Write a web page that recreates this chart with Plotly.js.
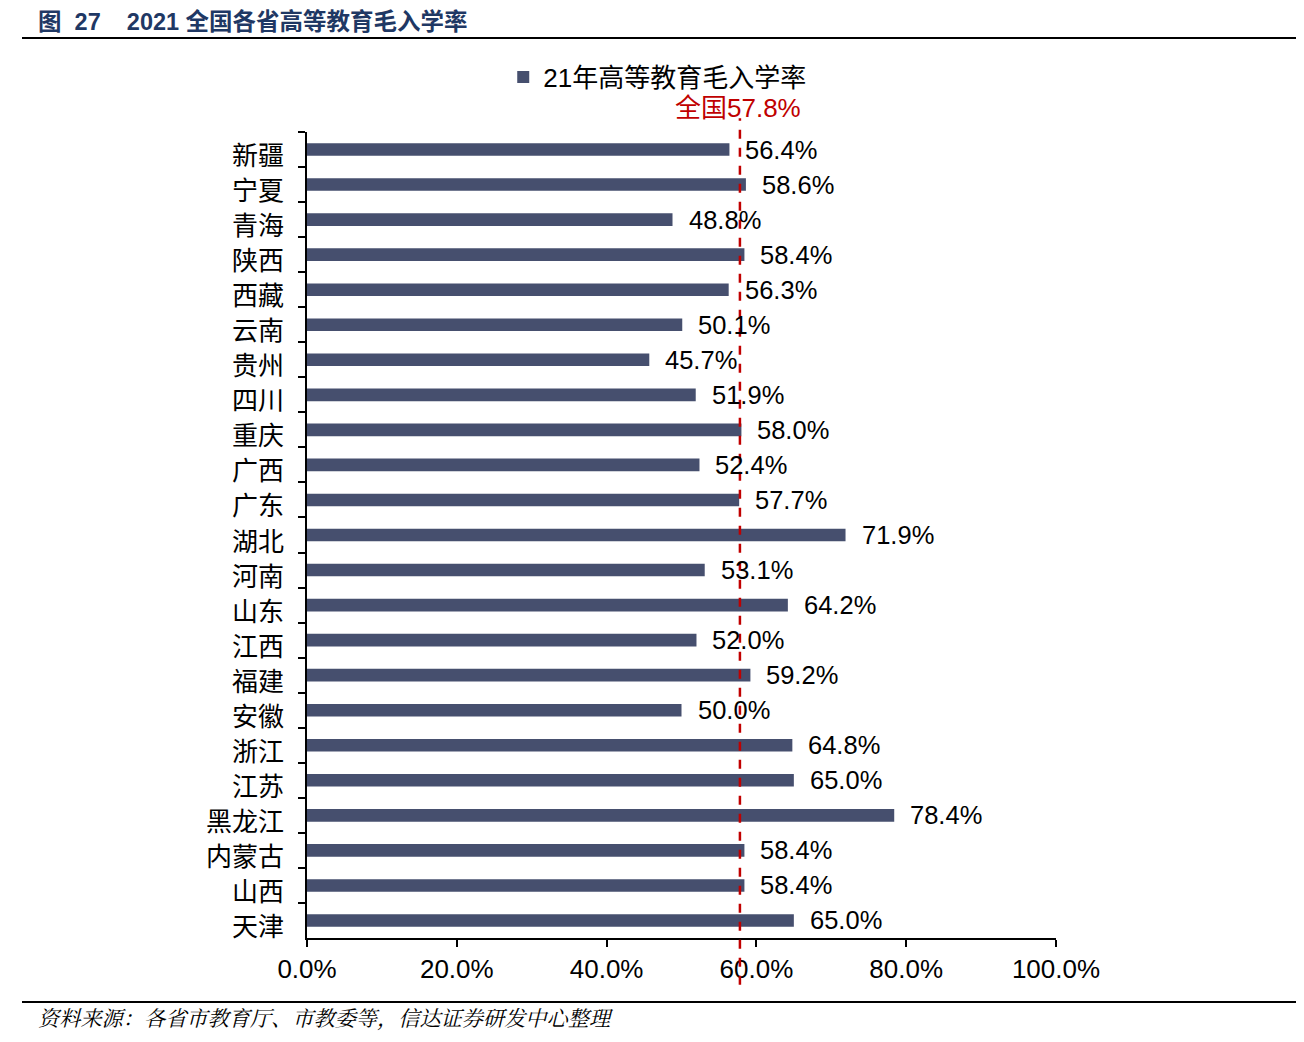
<!DOCTYPE html>
<html>
<head>
<meta charset="utf-8">
<script src="https://cdn.plot.ly/plotly-3.0.1.min.js"></script>
<style>
html,body{margin:0;padding:0;background:#fff;}
#chart{width:1304px;height:1042px;}
</style>
</head>
<body>
<div id="chart"></div>
<script>
var provinces = ["新疆","宁夏","青海","陕西","西藏","云南","贵州","四川","重庆","广西","广东","湖北","河南","山东","江西","福建","安徽","浙江","江苏","黑龙江","内蒙古","山西","天津"];
var rates = [56.4,58.6,48.8,58.4,56.3,50.1,45.7,51.9,58.0,52.4,57.7,71.9,53.1,64.2,52.0,59.2,50.0,64.8,65.0,78.4,58.4,58.4,65.0];
var nationalRate = 57.8;
var seriesName = "21年高等教育毛入学率";
var xTicks = [0,20,40,60,80,100];

var font = "Arial, 'Liberation Sans', 'Noto Sans CJK SC', sans-serif";
var cjk = "'Noto Sans CJK SC', sans-serif";

var trace = {
  type: "bar",
  orientation: "h",
  y: provinces,
  x: rates,
  name: seriesName,
  width: 0.36,
  marker: {color: "#464f6e"},
  hoverinfo: "x+y",
  showlegend: true
};

var annotations = [];
provinces.forEach(function(p, i){
  annotations.push({
    x: rates[i], y: p, xref: "x", yref: "y",
    text: rates[i].toFixed(1) + "%",
    showarrow: false, xanchor: "left", yanchor: "middle",
    xshift: 14, yshift: 0,
    font: {family: font, size: 25.5, color: "#000"}
  });
  annotations.push({
    x: 0, y: p, xref: "paper", yref: "y",
    text: p,
    showarrow: false, xanchor: "right", yanchor: "middle",
    xshift: -21, yshift: -4,
    font: {family: cjk, size: 26, color: "#000"}
  });
});
annotations.push({
  x: nationalRate, xref: "x", y: 1.030, yref: "paper",
  text: "全国" + nationalRate.toFixed(1) + "%",
  showarrow: false, xanchor: "center", yanchor: "middle", xshift: -2,
  font: {family: font, size: 26, color: "#c00000"}
});
annotations.push({
  xref: "paper", yref: "paper", x: (36-307)/749, y: (938-21)/806,
  xanchor: "left", yanchor: "middle", showarrow: false,
  text: "<b>图  27    2021 全国各省高等教育毛入学率</b>",
  font: {family: "Arial, 'Noto Sans CJK SC', sans-serif", size: 23.5, color: "#1f3864"}
});
annotations.push({
  xref: "paper", yref: "paper", x: (36-307)/749, y: (938-1017)/806,
  xanchor: "left", yanchor: "middle", showarrow: false,
  text: "<i>资料来源：各省市教育厅、市教委等，信达证券研发中心整理</i>",
  font: {family: "'Noto Serif CJK SC', 'Noto Sans CJK SC', serif", size: 21.2, color: "#000"}
});

var layout = {
  width: 1304, height: 1042,
  margin: {l: 307, r: 248, t: 132, b: 104, autoexpand: false},
  paper_bgcolor: "#fff", plot_bgcolor: "#fff",
  xaxis: {
    range: [0, 100],
    tickvals: xTicks,
    ticktext: xTicks.map(function(v){return v.toFixed(1) + "%";}),
    showgrid: false, zeroline: false,
    showline: true, linecolor: "#000", linewidth: 2,
    ticks: "outside", ticklen: 7, tickwidth: 2, tickcolor: "#000",
    tickfont: {family: font, size: 26, color: "#000"},
    ticklabelstandoff: 0,
    automargin: false,
    fixedrange: true
  },
  yaxis: {
    type: "category",
    range: [provinces.length - 0.5, -0.5],
    autorange: false,
    showgrid: false, zeroline: false,
    showline: true, linecolor: "#000", linewidth: 2,
    ticks: "outside", ticklen: 7, tickwidth: 2, tickcolor: "#000",
    tickson: "boundaries",
    showticklabels: false,
    automargin: false,
    fixedrange: true
  },
  legend: {
    orientation: "h",
    x: 0.262, xanchor: "left", xref: "paper",
    y: 1.068, yanchor: "middle", yref: "paper",
    font: {family: font, size: 26, color: "#000"},
    bgcolor: "rgba(0,0,0,0)",
    itemwidth: 30
  },
  shapes: [
    {type: "line", xref: "x", yref: "paper", x0: nationalRate, x1: nationalRate, y0: -0.058, y1: 1.017,
     line: {color: "#c00000", width: 2.5, dash: "dash"}},
    {type: "line", xref: "paper", yref: "paper",
     x0: (22-307)/749, x1: (1296-307)/749, y0: (938-38)/806, y1: (938-38)/806,
     line: {color: "#000", width: 2}},
    {type: "line", xref: "paper", yref: "paper",
     x0: (22-307)/749, x1: (1296-307)/749, y0: (938-1002)/806, y1: (938-1002)/806,
     line: {color: "#000", width: 2}}
  ],
  annotations: annotations
};

Plotly.newPlot("chart", [trace], layout, {displayModeBar: false, staticPlot: true});
</script>
</body>
</html>
